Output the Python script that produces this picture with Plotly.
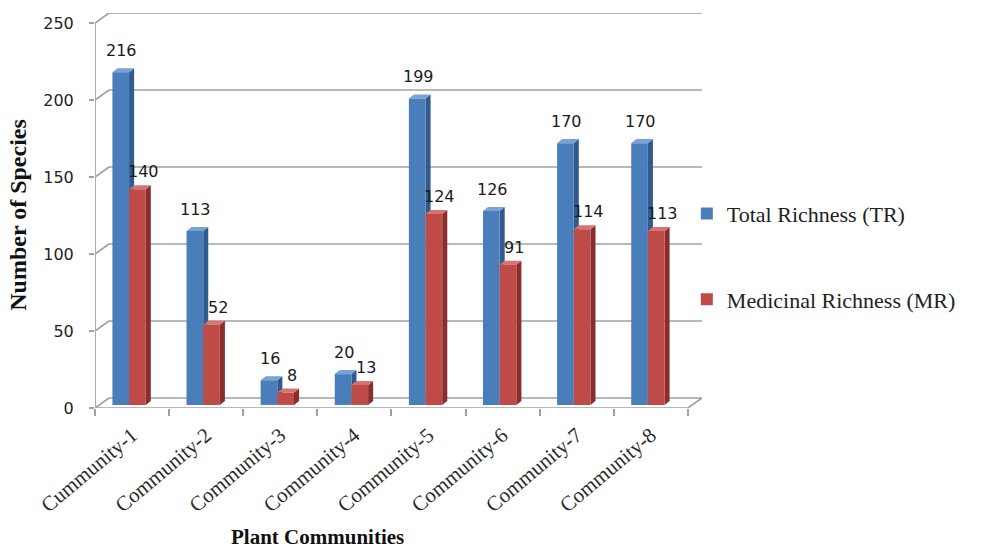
import plotly.graph_objects as go

# ---- data -------------------------------------------------------------
categories = ["Cummunity-1", "Community-2", "Community-3", "Community-4",
              "Community-5", "Community-6", "Community-7", "Community-8"]
total_richness = [216, 113, 16, 20, 199, 126, 170, 170]
medicinal_richness = [140, 52, 8, 13, 124, 91, 114, 113]
y_ticks = [0, 50, 100, 150, 200, 250]

series_names = ["Total Richness (TR)", "Medicinal Richness (MR)"]

# ---- pseudo-3D geometry (data units) ----------------------------------
X0, X1 = -0.5, len(categories) - 0.5          # front floor edge
WALL_DX, WALL_DY = 0.189, 6.5                 # depth of back wall
BAR_W = 0.225                                 # width of one column
PAIR_SHIFT = -0.04                            # shift of column pair
BAR_DX, BAR_DY = 0.068, 2.6                   # depth of a column
BAR_LIFT = 2.0                                # columns sit slightly behind the front edge

Y_RANGE = [0, 256.5]
GRID = "#A0A0A0"

faces = {
    "front": ["#4A7EBB", "#BE4B48"],
    "side":  ["#2F5B8F", "#8A2E2C"],
    "top":   ["#7AA2D6", "#D77370"],
}

fig = go.Figure()
shapes = []

# back wall gridlines with their left-wall connectors
for v in y_ticks:
    shapes.append(dict(type="line", xref="x", yref="y", layer="below",
                       x0=X0 + WALL_DX, y0=v + WALL_DY, x1=X1 + WALL_DX, y1=v + WALL_DY,
                       line=dict(color=GRID, width=1.7)))
    shapes.append(dict(type="line", xref="x", yref="y", layer="below",
                       x0=X0, y0=v, x1=X0 + WALL_DX, y1=v + WALL_DY,
                       line=dict(color=GRID, width=1.7)))

# floor front edge, right floor edge and front vertical axis line
shapes.append(dict(type="line", xref="x", yref="y", layer="below",
                   x0=X0, y0=0, x1=X1, y1=0, line=dict(color=GRID, width=1.7)))
shapes.append(dict(type="line", xref="x", yref="y", layer="below",
                   x0=X1, y0=0, x1=X1 + WALL_DX, y1=WALL_DY, line=dict(color=GRID, width=1.7)))
shapes.append(dict(type="line", xref="x", yref="y", layer="below",
                   x0=X0, y0=0, x1=X0, y1=y_ticks[-1], line=dict(color=GRID, width=1.7)))

positions = list(range(len(categories)))
offsets = [PAIR_SHIFT - BAR_W, PAIR_SHIFT]
annotations = []

for s, (name, values) in enumerate(zip(series_names, [total_richness, medicinal_richness])):
    off = offsets[s]
    fig.add_trace(go.Bar(
        x=positions, y=values, name=name, yaxis="y2",
        width=BAR_W, offset=off,
        marker=dict(color=faces["front"][s], line=dict(width=0)),
        legendgroup=name, hoverinfo="skip",
    ))
    for i, v in zip(positions, values):
        xl = i + off
        xr = xl + BAR_W
        # side face
        shapes.append(dict(
            type="path", xref="x", yref="y2", layer="below",
            path=f"M{xr},0 L{xr + BAR_DX},{BAR_DY} L{xr + BAR_DX},{v + BAR_DY} L{xr},{v} Z",
            fillcolor=faces["side"][s], line=dict(width=0)))
        # top face
        shapes.append(dict(
            type="path", xref="x", yref="y2", layer="below",
            path=f"M{xl},{v} L{xl + BAR_DX},{v + BAR_DY} L{xr + BAR_DX},{v + BAR_DY} L{xr},{v} Z",
            fillcolor=faces["top"][s], line=dict(width=0)))
        # value label
        annotations.append(dict(
            x=(xl + xr) / 2, y=v, xref="x", yref="y2", text=str(v),
            showarrow=False, yanchor="bottom", xanchor="center",
            yshift=10 if s == 0 else 6, xshift=1 if s == 0 else 6,
            font=dict(family="DejaVu Sans", size=16, color="#1a1a1a")))

# axis titles
annotations.append(dict(
    text="<b>Number of Species</b>", xref="paper", yref="paper",
    x=-0.127, y=0.489, xanchor="center", yanchor="middle",
    showarrow=False, textangle=-90,
    font=dict(family="Liberation Serif", size=24, color="#111")))
annotations.append(dict(
    text="<b>Plant Communities</b>", xref="paper", yref="paper",
    x=0.367, y=-0.327, xanchor="center", yanchor="middle", showarrow=False,
    font=dict(family="Liberation Serif", size=21, color="#111")))

fig.update_layout(
    width=995, height=554,
    margin=dict(l=95, r=293, t=13, b=146),
    paper_bgcolor="white", plot_bgcolor="white",
    barmode="overlay",
    shapes=shapes, annotations=annotations,
    showlegend=True,
    legend=dict(
        x=0.975, y=0.545, xanchor="left", yanchor="top",
        font=dict(family="Liberation Serif", size=22, color="#222"),
        tracegroupgap=54, traceorder="grouped",
        bgcolor="rgba(0,0,0,0)",
    ),
    xaxis=dict(
        range=[X0, X1 + 0.19], tickmode="array", tickvals=positions, ticktext=categories,
        tickangle=-40, ticks="", showgrid=False, zeroline=False, showline=False,
        ticklabelstandoff=10,
        tickfont=dict(family="Liberation Serif", size=21, color="#2a2a2a"),
        minor=dict(tick0=0.5, dtick=1, ticks="outside", ticklen=7, tickwidth=1.5,
                   tickcolor=GRID, showgrid=False),
    ),
    yaxis=dict(
        range=Y_RANGE, tickmode="array", tickvals=y_ticks,
        ticks="outside", ticklen=5, tickwidth=1.5, tickcolor=GRID,
        showgrid=False, zeroline=False, showline=False,
        ticklabelstandoff=12,
        tickfont=dict(family="DejaVu Sans", size=16, color="#222"),
    ),
    yaxis2=dict(
        range=[Y_RANGE[0] - BAR_LIFT, Y_RANGE[1] - BAR_LIFT], overlaying="y",
        visible=False, showgrid=False, zeroline=False,
    ),
)

fig.write_html("out.html")
